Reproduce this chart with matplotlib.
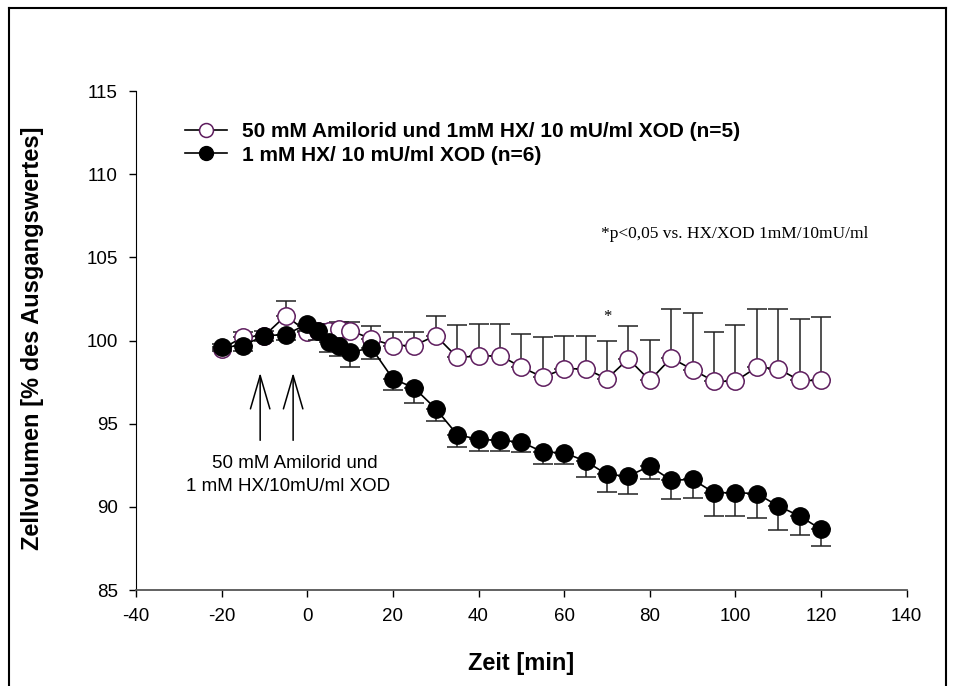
import numpy as np
import matplotlib
matplotlib.use("Agg")
import matplotlib.pyplot as plt
from matplotlib.lines import Line2D

plt.rcParams["font.family"] = ["Liberation Sans", "DejaVu Sans"]
plt.rcParams["axes.unicode_minus"] = False

# ---------------------------------------------------------------------------
# data (minutes, % of baseline volume)
# ---------------------------------------------------------------------------
t_min = [-20, -15, -10, -5, 0, 2.5, 5, 7.5, 10, 15, 20, 25, 30, 35, 40, 45, 50,
         55, 60, 65, 70, 75, 80, 85, 90, 95, 100, 105, 110, 115, 120]

amil_mean = [99.5, 100.2, 100.3, 101.5, 100.5, 100.6, 100.6, 100.7, 100.6, 100.1,
             99.7, 99.7, 100.3, 99.0, 99.05, 99.1, 98.4, 97.8, 98.3, 98.3, 97.7,
             98.9, 97.6, 98.95, 98.25, 97.55, 97.55, 98.4, 98.3, 97.6, 97.6]
amil_err = [0.3, 0.3, 0.3, 0.85, 0.4, 0.4, 0.4, 0.4, 0.5, 0.8, 0.8, 0.8, 1.2,
            1.93, 1.95, 1.9, 1.97, 2.4, 1.95, 1.95, 2.3, 1.95, 2.45, 2.95, 3.4,
            2.95, 3.4, 3.5, 3.6, 3.7, 3.8]

hx_mean = [99.6, 99.7, 100.3, 100.35, 101.0, 100.55, 99.9, 99.7, 99.3, 99.55,
           97.7, 97.15, 95.9, 94.35, 94.05, 94.0, 93.9, 93.3, 93.25, 92.75,
           91.95, 91.85, 92.45, 91.6, 91.65, 90.85, 90.85, 90.8, 90.05, 89.45,
           88.65]
hx_err = [0.2, 0.3, 0.3, 0.3, 0.4, 0.5, 0.6, 0.6, 0.9, 0.65, 0.7, 0.9, 0.75,
          0.75, 0.7, 0.65, 0.6, 0.7, 0.7, 0.95, 1.05, 1.05, 0.8, 1.15, 1.1, 1.4,
          1.4, 1.45, 1.45, 1.15, 1.0]

arrow_times = [-11, -3.3]
star_time, star_value = 70, 101.4

LABEL_AMIL = "50 mM Amilorid und 1mM HX/ 10 mU/ml XOD (n=5)"
LABEL_HX = "1 mM HX/ 10 mU/ml XOD (n=6)"
# ---------------------------------------------------------------------------

PURPLE = "#5e1d5e"
MS = 12.5

fig = plt.figure(figsize=(9.55, 6.86), dpi=100)
ax = fig.add_axes([0.1424, 0.1399, 0.807, 0.7274])

zeros = np.zeros(len(t_min))

# open circles first, filled series sits on top of it
ax.errorbar(t_min, amil_mean, yerr=[zeros, amil_err], fmt="none",
            ecolor="#222222", elinewidth=1.1, capsize=7, capthick=1.1, zorder=1)
ax.plot(t_min, amil_mean, "-o", color="black", lw=1.2, ms=MS,
        mfc="white", mec=PURPLE, mew=1.1, zorder=2)

ax.errorbar(t_min, hx_mean, yerr=[hx_err, zeros], fmt="none",
            ecolor="#222222", elinewidth=1.1, capsize=7, capthick=1.1, zorder=3)
ax.plot(t_min, hx_mean, "-o", color="black", lw=1.2, ms=MS,
        mfc="black", mec="black", zorder=4)

ax.set_xlim(-40, 140)
ax.set_ylim(85, 115)
ax.set_xticks(np.arange(-40, 141, 20))
ax.set_yticks(np.arange(85, 116, 5))
ax.tick_params(direction="out", length=5, width=1, labelsize=13.5, pad=8)
ax.spines["top"].set_visible(False)
ax.spines["right"].set_visible(False)
ax.spines["bottom"].set_color("#555555")
ax.spines["bottom"].set_linewidth(1.3)

ax.set_xlabel("Zeit [min]", fontsize=17, fontweight="bold")
ax.xaxis.set_label_coords(0.5, -0.125)
ax.set_ylabel("Zellvolumen [% des Ausgangswertes]", fontsize=17, fontweight="bold")
ax.yaxis.set_label_coords(-0.119, 0.505)

# stimulus arrows + description
for ta in arrow_times:
    ax.annotate("", xy=(ta, 98.06), xytext=(ta, 94.0),
                arrowprops=dict(arrowstyle="->,head_length=24,head_width=7",
                                mutation_scale=1, color="black", lw=1.1,
                                shrinkA=0, shrinkB=0))
ax.text(-3.0, 92.6, "50 mM Amilorid und", ha="center", va="center", fontsize=13.5)
ax.text(-4.5, 91.2, "1 mM HX/10mU/ml XOD", ha="center", va="center", fontsize=13.5)

ax.text(star_time, star_value, "*", ha="center", va="center", fontsize=12,
        family="Liberation Serif")
ax.text(68.5, 106.4, "*p<0,05 vs. HX/XOD 1mM/10mU/ml", ha="left", va="center",
        fontsize=12.5, family="Liberation Serif")

handles = [
    Line2D([], [], color="black", lw=1.2, marker="o", ms=10,
           mfc="white", mec=PURPLE, mew=1.1),
    Line2D([], [], color="black", lw=1.2, marker="o", ms=10,
           mfc="black", mec="black"),
]
ax.legend(handles, [LABEL_AMIL, LABEL_HX], loc="upper left",
          bbox_to_anchor=(0.0636, 0.937), frameon=False, borderpad=0,
          borderaxespad=0, handlelength=2.0, handletextpad=0.75,
          labelspacing=0.2, prop=dict(size=15, weight="bold"))

# outer frame of the original figure (bottom edge is cropped)
fw = 1.5
fig.add_artist(Line2D([9 / 955, 9 / 955], [0, 1 - 8 / 686], color="black", lw=fw,
                      transform=fig.transFigure))
fig.add_artist(Line2D([9 / 955, 946 / 955], [1 - 8 / 686, 1 - 8 / 686],
                      color="black", lw=fw, transform=fig.transFigure))
fig.add_artist(Line2D([946 / 955, 946 / 955], [0, 1 - 8 / 686], color="black", lw=fw,
                      transform=fig.transFigure))

fig.savefig("out.png", dpi=100)
